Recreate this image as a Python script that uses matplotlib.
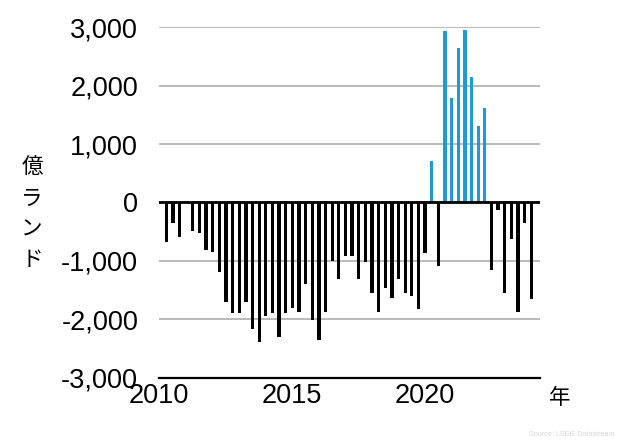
import matplotlib.pyplot as plt
from matplotlib.ticker import FuncFormatter

plt.rcParams['font.family'] = ['Liberation Sans', 'Noto Sans CJK JP', 'DejaVu Sans']

# quarterly net flows, 2010Q1 .. 2023Q4 (億ランド)
start_year = 2010
values = [
    -685, -349, -589, 0,
    -486, -520, -811, -856,
    -1188, -1702, -1890, -1901,
    -1702, -2170, -2397, -1941,
    -1901, -2301, -1890, -1815,
    -1873, -1404, -2021, -2358,
    -1873, -1000, -1318, -914,
    -914, -1308, -1017, -1558,
    -1884, -1462, -1634, -1308,
    -1548, -1605, -1827, -863,
    707, -1085, 2933, 1786,
    2637, 2950, 2151, 1306,
    1620, -1154, -132, -1548,
    -623, -1873, -349, -1656,
]
year_ticks = [2010, 2015, 2020]
y_ticks = [-3000, -2000, -1000, 0, 1000, 2000, 3000]

positions = [start_year + 0.273 + i * 0.25 for i in range(len(values))]
colors = ['#1e9bd7' if v > 0 else 'black' for v in values]

fig = plt.figure(figsize=(6.33, 4.41), dpi=100)
ax = fig.add_axes([0.2512, 0.1438, 0.6020, 0.7943])

ax.bar(positions, values, width=0.125, color=colors, zorder=3)

ax.set_xlim(2010.112, 2024.355)
ax.set_ylim(-3000, 3000)
ax.set_yticks(y_ticks)
ax.set_xticks(year_ticks)
ax.yaxis.set_major_formatter(FuncFormatter(lambda v, p: f"{int(v):,}"))
ax.tick_params(axis='both', length=0, labelsize=19.5)
ax.tick_params(axis='y', pad=15)
ax.tick_params(axis='x', pad=4)

ax.grid(axis='y', color='#b4b4b4', linewidth=1.3, zorder=0)
ax.axhline(0, color='black', linewidth=2, zorder=4)

for side in ['top', 'right', 'left']:
    ax.spines[side].set_visible(False)
ax.spines['bottom'].set_linewidth(1.6)
ax.spines['bottom'].set_zorder(4)

# vertical unit label, one character per line
fig.text(32 / 633, 1 - 214 / 441, "億\nラ\nン\nド", family=['Noto Sans CJK JP'],
         fontsize=15.5, ha='center', va='center', linespacing=1.5)
fig.text(560 / 633, 1 - 398 / 441, "年", family=['Noto Sans CJK JP'],
         fontsize=15.5, ha='center', va='center')
fig.text(529 / 633, 1 - 435 / 441, "Source: LSEG Datastream", fontsize=5.2,
         color='#d6d6d6', ha='left', va='center')

fig.savefig("out.png", dpi=100)
